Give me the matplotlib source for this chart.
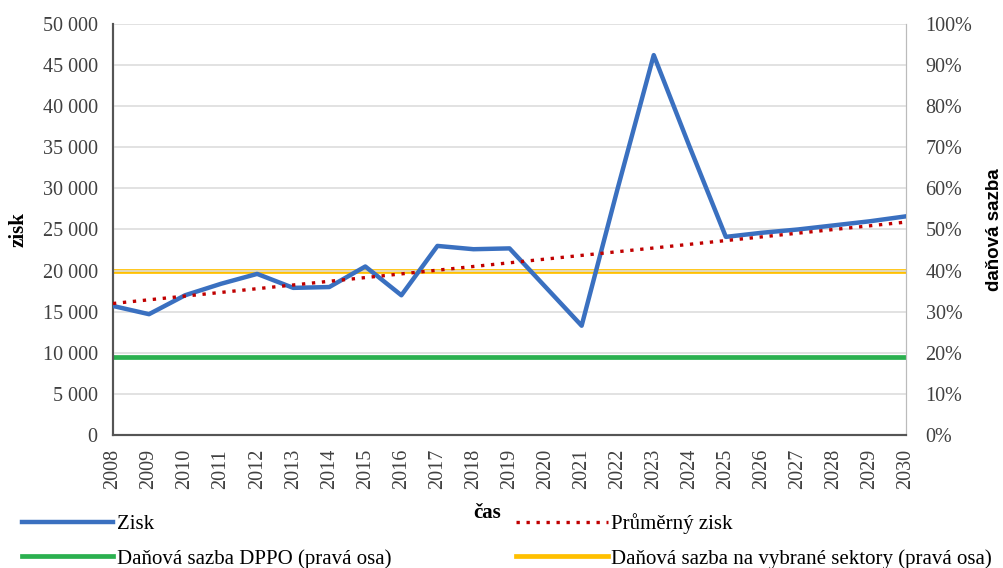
import matplotlib.pyplot as plt
from matplotlib.ticker import FuncFormatter, MultipleLocator

plt.rcParams['font.family'] = ['Liberation Serif', 'DejaVu Serif']

years = list(range(2008, 2031))
zisk = [15700, 14700, 17000, 18400, 19600, 17900, 18000, 20500, 17000, 23000,
        22600, 22700, 18000, 13300, 30000, 46200, 35000, 24100, 24600, 25000,
        25500, 26000, 26600]
# trendline "Průměrný zisk" read at its two ends
trend_years = [2008, 2030]
trend_values = [16000, 25900]
sazba_dppo = 0.19
sazba_sektory = 0.40

fig = plt.figure(figsize=(10.04, 5.68), dpi=100)
ax = fig.add_axes([0.1125, 0.234, 0.79, 0.724])
ax2 = ax.twinx()

ax.plot(years, zisk, color='#3A70C0', lw=3.2, label='Zisk', zorder=4)
ax.plot(trend_years, trend_values, color='#C00000', lw=2.4, ls=(0, (1, 2.0)),
        label='Průměrný zisk', zorder=5)
ax2.plot([years[0], years[-1]], [sazba_dppo, sazba_dppo], color='#2BB04F', lw=3.4,
         label='Daňová sazba DPPO (pravá osa)')
ax2.plot([years[0], years[-1]], [sazba_sektory, sazba_sektory], color='#FFC000', lw=3.4,
         label='Daňová sazba na vybrané sektory (pravá osa)')

ax.set_zorder(ax2.get_zorder() + 1)
ax.patch.set_visible(False)

ax.set_xlim(2008, 2030)
ax.set_ylim(0, 50000)
ax2.set_ylim(0, 1)
ax.set_xticks(years)
ax.set_xticklabels([str(y) for y in years], rotation=90, fontsize=14.5)
ax.yaxis.set_major_locator(MultipleLocator(5000))
ax.yaxis.set_major_formatter(FuncFormatter(lambda v, p: f'{int(v):,}'.replace(',', ' ')))
ax2.yaxis.set_major_locator(MultipleLocator(0.1))
ax2.yaxis.set_major_formatter(FuncFormatter(lambda v, p: f'{v * 100:.0f}%'))
ax.tick_params(axis='y', labelsize=14.5, length=0, pad=11, colors='#404040')
ax.tick_params(axis='x', length=0, pad=10, colors='#404040')
ax2.tick_params(axis='y', labelsize=14.5, length=0, pad=14, colors='#404040')
ax.grid(axis='y', color='#DDDDDD', lw=1.2)
ax.set_axisbelow(True)

for a in (ax, ax2):
    a.spines['top'].set_visible(False)
    a.spines['left'].set_color('#555555')
    a.spines['bottom'].set_color('#555555')
    a.spines['right'].set_color('#BBBBBB')
    a.spines['left'].set_linewidth(1.5)
    a.spines['bottom'].set_linewidth(1.5)

ax.set_ylabel('zisk', fontsize=15, fontweight='bold', labelpad=10)
ax2.set_ylabel('daňová sazba', fontsize=13.5, fontweight='bold', labelpad=10,
               family=['Liberation Sans', 'DejaVu Sans'])
fig.text(0.485, 0.097, 'čas', fontsize=15, fontweight='bold', ha='center', va='center')

h1, l1 = ax.get_legend_handles_labels()
h2, l2 = ax2.get_legend_handles_labels()
handles = [h1[0], h2[0], h1[1], h2[1]]
labels = [l1[0], l2[0], l1[1], l2[1]]
fig.legend(handles, labels, loc='lower left', bbox_to_anchor=(0.003, -0.034), ncol=2,
           frameon=False, fontsize=15, handlelength=4.4, handletextpad=0.15,
           columnspacing=6.0, labelspacing=0.72)

fig.savefig('out.png', dpi=100)
